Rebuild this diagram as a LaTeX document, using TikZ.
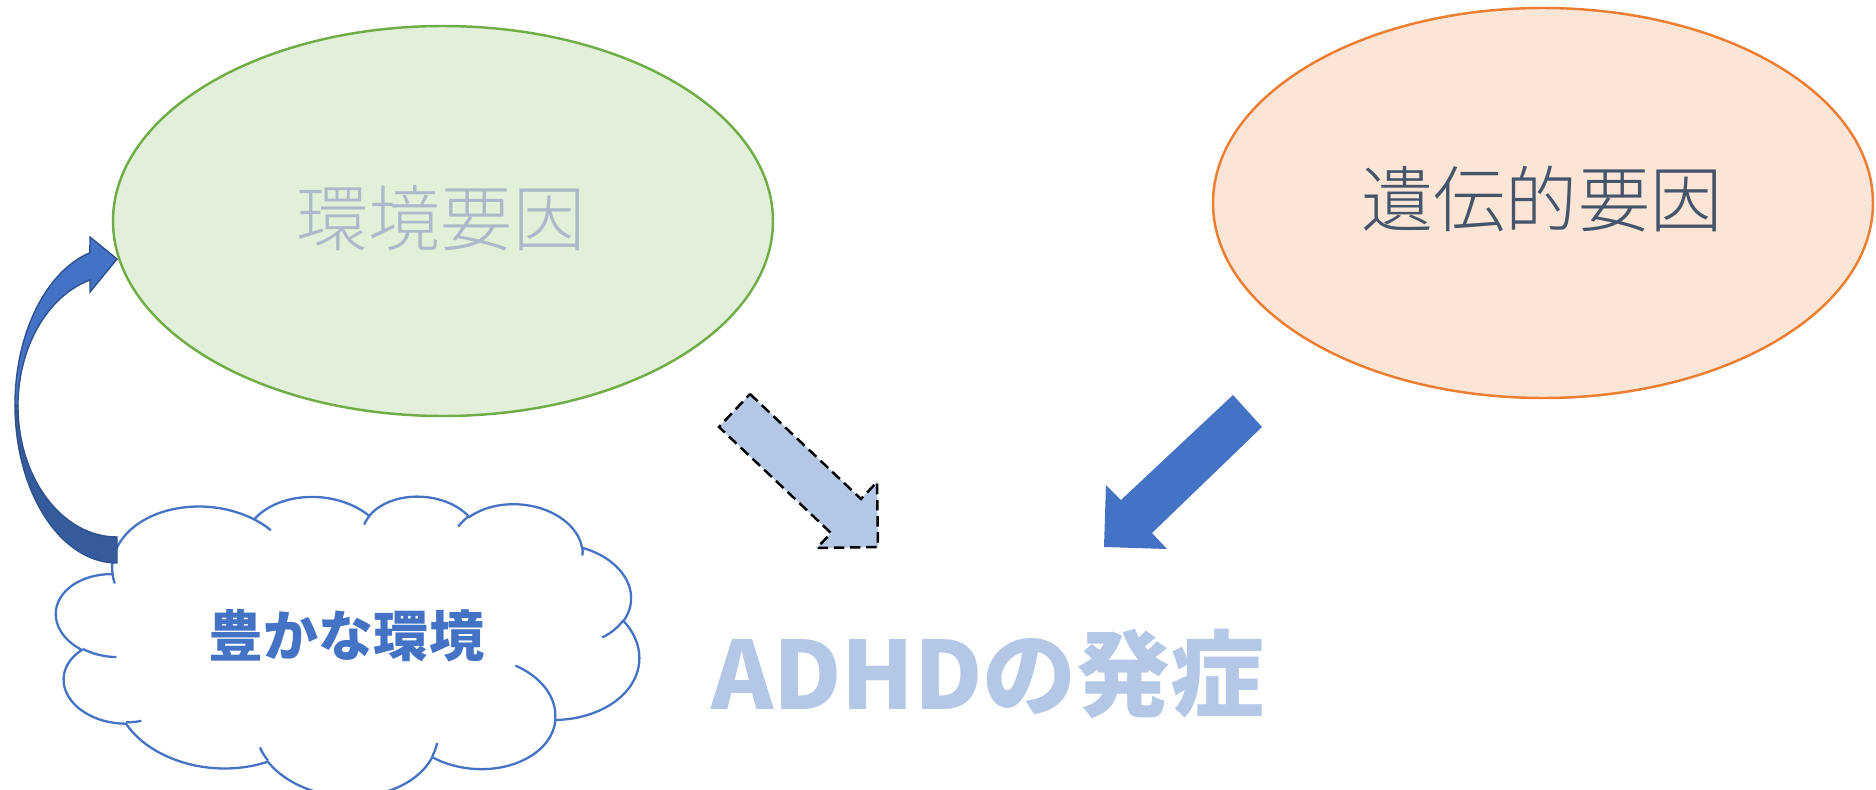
\documentclass[tikz,border=0pt]{standalone}
\usepackage{fontspec}
\newfontfamily\jpfont{Noto Sans CJK JP}
\IfFontExistsTF{Noto Sans CJK JP Light}{\newfontfamily\jplight{Noto Sans CJK JP Light}}{\newfontfamily\jplight{Noto Sans CJK JP}}
\usetikzlibrary{shapes.geometric}
\definecolor{envfill}{HTML}{E2F0D9}
\definecolor{envline}{HTML}{70AD47}
\definecolor{genfill}{HTML}{FBE5D6}
\definecolor{genline}{HTML}{ED7D31}
\definecolor{envtext}{HTML}{ADB9CA}
\definecolor{gentext}{HTML}{44546A}
\definecolor{accA}{HTML}{4472C4}
\definecolor{accLight}{HTML}{B4C7E7}
\definecolor{accDark}{HTML}{365B9D}
\definecolor{accEdge}{HTML}{2F528F}
% elliptical arc given as in DrawingML (visual angles)
\newcommand\cldarc[4]{arc[start angle={atan2((#1)*sin(#3),(#2)*cos(#3))}, delta angle={(#4)+mod(atan2((#1)*sin((#3)+(#4)),(#2)*cos((#3)+(#4)))-atan2((#1)*sin(#3),(#2)*cos(#3))-(#4)+1260,360)-180}, x radius=#1, y radius=#2]}
\begin{document}
\begin{tikzpicture}[x=0.1mm,y=-0.1mm,
  factor/.style={ellipse, inner sep=0pt, minimum width=66mm, minimum height=39mm, line width=0.7pt},
  bigtext/.style={inner sep=0pt, font=\jplight\fontsize{20.5pt}{24pt}\selectfont},
  cloudline/.style={draw=accA, line width=0.65pt},
  blockarrow/.style={line join=miter}]
\useasboundingbox (0,0) rectangle (1876,790);

% ellipses
\node[factor, draw=envline, fill=envfill] (envE) at (443,221) {};
\node[factor, draw=genline, fill=genfill] (genE) at (1543,203) {};
\node[bigtext, text=envtext] (envT) at (441,218) {環境要因};
\node[bigtext, text=gentext] (genT) at (1542,199) {遺伝的要因};

% cloud (slightly rotated)
\begin{scope}[shift={(68.13,467.96)}, cm={1.3496,-0.1058,0.05785,0.70357,(0,0)}]
\draw[cloudline, fill=white] (39.00,143.70)
  \cldarc{67.53}{91.90}{-190.48748}{123.78053}
  \cldarc{53.33}{72.67}{-144.10238}{89.94523}
  \cldarc{43.65}{59.45}{-145.80792}{99.72302}
  \cldarc{48.57}{65.95}{-130.98607}{117.24173}
  \cldarc{53.33}{72.73}{-78.70888}{109.02692}
  \cldarc{67.75}{92.20}{-46.26725}{130.269}
  \cldarc{57.85}{78.67}{0.62502}{114.03333}
  \cldarc{67.52}{92.15}{22.4516}{115.17255}
  \cldarc{77.20}{105.43}{66.24263}{75.71102}
  \cldarc{43.60}{59.18}{-274.94208}{146.73557}
  \cldarc{43.45}{59.45}{-246.8285}{152.51885} -- cycle;
\draw[cloudline]
  (46.93,261.77) \cldarc{43.45}{59.45}{86.742}{26.4295}
  (69.28,348.99) \cldarc{43.60}{59.18}{73.6105}{11.4475}
  (164.78,390.90) \cldarc{67.52}{92.15}{137.6242}{14.0811}
  (288.27,347.51) \cldarc{67.52}{92.15}{6.4533}{15.9984}
  (341.29,229.54) \cldarc{57.85}{78.67}{-70.2924}{70.9174}
  (417.98,153.54) \cldarc{53.33}{72.73}{30.3180}{27.7515}
  (383.24,54.26) \cldarc{48.57}{65.95}{-13.7443}{14.8589}
  (290.78,39.52) \cldarc{48.57}{65.95}{-149.1815}{18.1954}
  (221.41,47.20) \cldarc{43.65}{59.45}{-163.4943}{17.6864}
  (140.00,51.92) \cldarc{67.53}{91.90}{-66.7070}{12.3194}
  (41.27,157.89) \cldarc{67.53}{91.90}{157.6544}{11.8582};
\end{scope}
\node[inner sep=0pt, text=accA, font=\jpfont\bfseries\fontsize{15.65pt}{18pt}\selectfont] (richT) at (346.5,636) {豊かな環境};

% curved arrow from the cloud to the environment ellipse
\fill[accDark, draw=accEdge, line width=0.4pt]
  (15,405) arc[start angle=180, end angle=90, x radius=102, y radius=158]
  -- (117,537) arc[start angle=90, end angle=180, x radius=99, y radius=131] -- cycle;
\filldraw[fill=accA, draw=accEdge, line width=0.4pt, blockarrow]
  (90,237) -- (117,259) -- (90,292) -- (90,280)
  arc[start angle=254.2, end angle=180, x radius=99, y radius=131]
  -- (15,405) arc[start angle=180, end angle=254.6, x radius=102, y radius=158] -- cycle;

% block arrows
\filldraw[fill=accLight, draw=black, line width=0.7pt, dash pattern=on 3pt off 1.6pt, blockarrow]
  (750,394) -- (861,499) -- (877,482) -- (878,547) -- (817,548) -- (831,533) -- (719,427) -- cycle;
\fill[accA, blockarrow]
  (1233,395) -- (1262,427) -- (1152,533) -- (1167,549) -- (1104,547) -- (1106,485) -- (1121,500) -- cycle;

\node[inner sep=0pt, text=accLight, font=\jpfont\bfseries\fontsize{26.75pt}{30pt}\selectfont] (adhd) at (988,674) {ADHDの発症};
\end{tikzpicture}
\end{document}
